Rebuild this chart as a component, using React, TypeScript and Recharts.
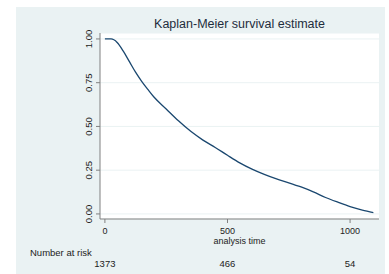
import { CartesianGrid, Line, LineChart, XAxis, YAxis } from 'recharts';

// analysis time (days) and Kaplan-Meier survivor estimate
const times = [0, 25, 50, 75, 100, 125, 150, 175, 200, 250, 300, 350, 400, 450, 500, 550, 600, 650, 700, 750, 800, 850, 900, 950, 1000, 1050, 1095];
const survival = [1.0, 1.0, 0.98, 0.93, 0.87, 0.81, 0.758, 0.712, 0.668, 0.6, 0.532, 0.472, 0.422, 0.38, 0.335, 0.292, 0.256, 0.226, 0.2, 0.178, 0.154, 0.126, 0.094, 0.067, 0.042, 0.022, 0.008];

const xTicks = [0, 500, 1000];
const yTicks = [0, 0.25, 0.5, 0.75, 1];
const atRisk = [1373, 466, 54];

const chartData = times.map((t, i) => ({ t, s: survival[i] }));

const FONT = '"Liberation Sans", Arial, sans-serif';

const YTick = ({ x, y, payload }: any) => (
    <text
        x={x - 2}
        y={y}
        transform={`rotate(-90, ${x - 2}, ${y})`}
        textAnchor="middle"
        fontSize={9.5}
        fontFamily={FONT}
        fill="#222"
    >
        {payload.value.toFixed(2)}
    </text>
);

const XTick = ({ x, y, payload }: any) => (
    <text x={x} y={y + 11} textAnchor="middle" fontSize={9} fontFamily={FONT} fill="#222">
        {payload.value}
    </text>
);

const RiskTick = ({ x, y, payload, index }: any) => (
    <g>
        {index === 0 && (
            <text x={30} y={y + 11} fontSize={9.5} fontFamily={FONT} fill="#222">
                Number at risk
            </text>
        )}
        <text x={x} y={y + 22} textAnchor="middle" fontSize={9.5} fontFamily={FONT} fill="#222">
            {atRisk[xTicks.indexOf(payload.value)]}
        </text>
    </g>
);

export default function App() {
    return (
        <div style={{ position: 'absolute', left: 0, top: 0, width: 389, height: 274, background: '#fff' }}>
            <div style={{ position: 'absolute', left: 16, top: 7, width: 369, height: 267, background: '#eaf2f3' }} />
            <div style={{ position: 'absolute', left: 0, top: 0 }}>
                <LineChart
                    width={389}
                    height={274}
                    data={chartData}
                    margin={{ top: 33, right: 10, left: 70, bottom: 0 }}
                >
                    <text x={239.5} y={28} textAnchor="middle" fontSize={12.5} fontFamily={FONT} fill="#1e2d3d">
                        Kaplan-Meier survival estimate
                    </text>
                    <text x={239.5} y={244} textAnchor="middle" fontSize={9} fontFamily={FONT} fill="#222">
                        analysis time
                    </text>
                    <CartesianGrid vertical={false} fill="#fff" stroke="#eaf2f3" strokeWidth={1} />
                    <XAxis
                        dataKey="t"
                        type="number"
                        domain={[-20, 1118]}
                        ticks={xTicks}
                        allowDataOverflow
                        height={26}
                        stroke="#808080"
                        tickSize={4}
                        tickMargin={0}
                        tick={<XTick />}
                    />
                    <XAxis
                        xAxisId="risk"
                        dataKey="t"
                        type="number"
                        domain={[-20, 1118]}
                        ticks={xTicks}
                        allowDataOverflow
                        height={29}
                        axisLine={false}
                        tickLine={false}
                        tickSize={0}
                        tickMargin={0}
                        tick={<RiskTick />}
                    />
                    <YAxis
                        type="number"
                        domain={[-0.029, 1.034]}
                        ticks={yTicks}
                        allowDataOverflow
                        width={30}
                        stroke="#808080"
                        tickSize={4}
                        tickMargin={2}
                        tick={<YTick />}
                    />
                    <Line
                        type="monotone"
                        dataKey="s"
                        stroke="#1a476f"
                        strokeWidth={1.3}
                        dot={false}
                        isAnimationActive={false}
                    />
                </LineChart>
            </div>
        </div>
    );
}
